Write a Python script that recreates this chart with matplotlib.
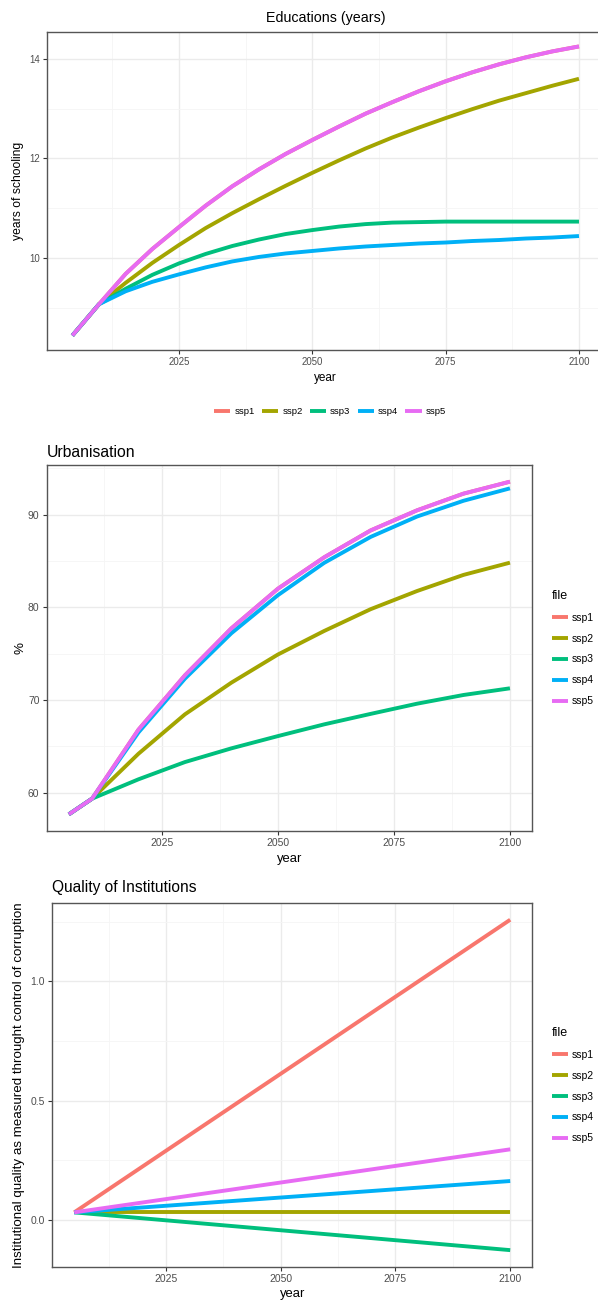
import matplotlib
matplotlib.use("Agg")
import matplotlib.pyplot as plt
from matplotlib.ticker import FixedLocator

plt.rcParams['font.family'] = ['Liberation Sans', 'DejaVu Sans']

# ---------------- data ----------------
scenarios = ["ssp1", "ssp2", "ssp3", "ssp4", "ssp5"]
colors = ["#F8766D", "#A3A500", "#00BF7D", "#00B0F6", "#E76BF3"]

edu_years = [2005, 2010, 2015, 2020, 2025, 2030, 2035, 2040, 2045, 2050,
             2055, 2060, 2065, 2070, 2075, 2080, 2085, 2090, 2095, 2100]
edu_ssp1 = [8.44, 9.07, 9.68, 10.18, 10.62, 11.05, 11.44, 11.78, 12.09, 12.37,
            12.64, 12.90, 13.13, 13.35, 13.55, 13.73, 13.89, 14.03, 14.15, 14.25]
edu_ssp2 = [8.44, 9.07, 9.50, 9.90, 10.26, 10.60, 10.90, 11.18, 11.45, 11.71,
            11.96, 12.20, 12.42, 12.62, 12.81, 12.99, 13.16, 13.31, 13.46, 13.60]
edu_ssp3 = [8.44, 9.07, 9.38, 9.66, 9.89, 10.08, 10.24, 10.37, 10.48, 10.56,
            10.63, 10.68, 10.71, 10.72, 10.73, 10.73, 10.73, 10.73, 10.73, 10.73]
edu_ssp4 = [8.44, 9.07, 9.33, 9.52, 9.67, 9.81, 9.93, 10.02, 10.09, 10.14,
            10.19, 10.23, 10.26, 10.29, 10.31, 10.34, 10.36, 10.39, 10.41, 10.44]
edu_ssp5 = [8.44, 9.07, 9.68, 10.18, 10.62, 11.05, 11.44, 11.78, 12.09, 12.37,
            12.64, 12.90, 13.13, 13.35, 13.55, 13.73, 13.89, 14.03, 14.15, 14.25]

urb_years = [2005, 2010, 2020, 2030, 2040, 2050, 2060, 2070, 2080, 2090, 2100]
urb_ssp1 = [57.66, 59.35, 66.8, 72.66, 77.73, 82.0, 85.4, 88.3, 90.47, 92.27, 93.56]
urb_ssp2 = [57.66, 59.35, 64.2, 68.45, 71.87, 74.9, 77.45, 79.8, 81.76, 83.5, 84.82]
urb_ssp3 = [57.66, 59.35, 61.44, 63.3, 64.78, 66.1, 67.37, 68.5, 69.6, 70.54, 71.26]
urb_ssp4 = [57.66, 59.35, 66.5, 72.3, 77.2, 81.3, 84.8, 87.6, 89.8, 91.5, 92.84]
urb_ssp5 = [57.66, 59.35, 66.8, 72.66, 77.73, 82.0, 85.4, 88.3, 90.47, 92.27, 93.56]

inst_years = [2005, 2100]
inst_ssp1 = [0.031, 1.259]
inst_ssp2 = [0.031, 0.031]
inst_ssp3 = [0.031, -0.1275]
inst_ssp4 = [0.031, 0.1625]
inst_ssp5 = [0.031, 0.2955]

x_ticks = [2025, 2050, 2075, 2100]

# ---------------- layout ----------------
W, H = 598, 1301
fig = plt.figure(figsize=(W / 100, H / 100), dpi=100)

def ax_px(l, t, r, b):
    return fig.add_axes([l / W, 1 - b / H, (r - l) / W, (b - t) / H])

LW = 2.8
xlim = (2000.25, 2104.75)

def style(ax, yticks, yminor, ylim, tick_fs, ax_fs):
    ax.set_xlim(*xlim)
    ax.set_ylim(*ylim)
    ax.xaxis.set_major_locator(FixedLocator(x_ticks))
    ax.xaxis.set_minor_locator(FixedLocator([2012.5, 2037.5, 2062.5, 2087.5]))
    ax.yaxis.set_major_locator(FixedLocator(yticks))
    ax.yaxis.set_minor_locator(FixedLocator(yminor))
    ax.grid(which='major', color='#EBEBEB', lw=1.0)
    ax.grid(which='minor', color='#F5F5F5', lw=0.6)
    ax.set_axisbelow(True)
    for s in ax.spines.values():
        s.set_color('#555555')
        s.set_linewidth(1.0)
    ax.tick_params(which='major', length=2.7, width=0.8, color='#333333',
                   labelsize=tick_fs, labelcolor='#4D4D4D', pad=2.6)
    ax.tick_params(which='minor', length=0)
    ax.set_xlabel('year', fontsize=ax_fs, labelpad=3)

# ---- Panel 1: Education ----
ax1 = ax_px(47, 32, 604.3, 350)
edu = [edu_ssp1, edu_ssp2, edu_ssp3, edu_ssp4, edu_ssp5]
h1 = []
for name, c, vals in zip(scenarios, colors, edu):
    ln, = ax1.plot(edu_years, vals, color=c, lw=LW, label=name, solid_capstyle='butt')
    h1.append(ln)
style(ax1, [10, 12, 14], [9, 11, 13], (8.15, 14.54), 6.9, 8.5)
ax1.yaxis.set_major_formatter(plt.FuncFormatter(lambda v, p: f"{v:g}"))
ax1.set_ylabel('years of schooling', fontsize=8.7)
ax1.yaxis.set_label_coords((24 - 47) / 557.3, 0.5)
ax1.set_title('Educations (years)', fontsize=10.3, pad=7)
fig.legend(handles=h1, labels=scenarios, loc='center', ncol=5,
           bbox_to_anchor=(330 / W, 1 - 412 / H), frameon=False,
           fontsize=6.8, handlelength=1.75, handletextpad=0.42,
           columnspacing=0.75, borderpad=0, borderaxespad=0)

# ---- Panel 2: Urbanisation ----
ax2 = ax_px(46.8, 465, 532, 831)
urb = [urb_ssp1, urb_ssp2, urb_ssp3, urb_ssp4, urb_ssp5]
h2 = []
for name, c, vals in zip(scenarios, colors, urb):
    ln, = ax2.plot(urb_years, vals, color=c, lw=LW, label=name, solid_capstyle='butt')
    h2.append(ln)
style(ax2, [60, 70, 80, 90], [55, 65, 75, 85, 95], (55.86, 95.36), 7.5, 9.4)
ax2.set_ylabel('%', fontsize=9.6)
ax2.yaxis.set_label_coords((26 - 46.8) / 485.2, 0.5)
ax2.set_title('Urbanisation', fontsize=11.3, loc='left', pad=5.5)
fig.legend(handles=h2, labels=scenarios, loc='upper left', title='file',
           bbox_to_anchor=(552 / W, 1 - 590 / H), frameon=False,
           fontsize=7.5, title_fontsize=9.0, handlelength=1.55,
           handletextpad=0.38, labelspacing=1.04, borderpad=0,
           borderaxespad=0, alignment='left')

# ---- Panel 3: Institutions ----
ax3 = ax_px(52.4, 903.3, 532, 1266.7)
inst = [inst_ssp1, inst_ssp2, inst_ssp3, inst_ssp4, inst_ssp5]
h3 = []
for name, c, vals in zip(scenarios, colors, inst):
    ln, = ax3.plot(inst_years, vals, color=c, lw=LW, label=name, solid_capstyle='butt')
    h3.append(ln)
style(ax3, [0.0, 0.5, 1.0], [0.25, 0.75, 1.25], (-0.197, 1.328), 7.5, 9.4)
ax3.yaxis.set_major_formatter(plt.FuncFormatter(lambda v, p: f"{v:.1f}"))
ax3.set_ylabel('Institutional quality as measured throught control of corruption',
               fontsize=9.6)
ax3.yaxis.set_label_coords((25 - 52.4) / 479.6, 0.5)
ax3.set_title('Quality of Institutions', fontsize=11.2, loc='left', pad=8)
fig.legend(handles=h3, labels=scenarios, loc='upper left', title='file',
           bbox_to_anchor=(552 / W, 1 - 1027 / H), frameon=False,
           fontsize=7.5, title_fontsize=9.0, handlelength=1.55,
           handletextpad=0.38, labelspacing=1.04, borderpad=0,
           borderaxespad=0, alignment='left')

fig.savefig('out.png', dpi=100)
